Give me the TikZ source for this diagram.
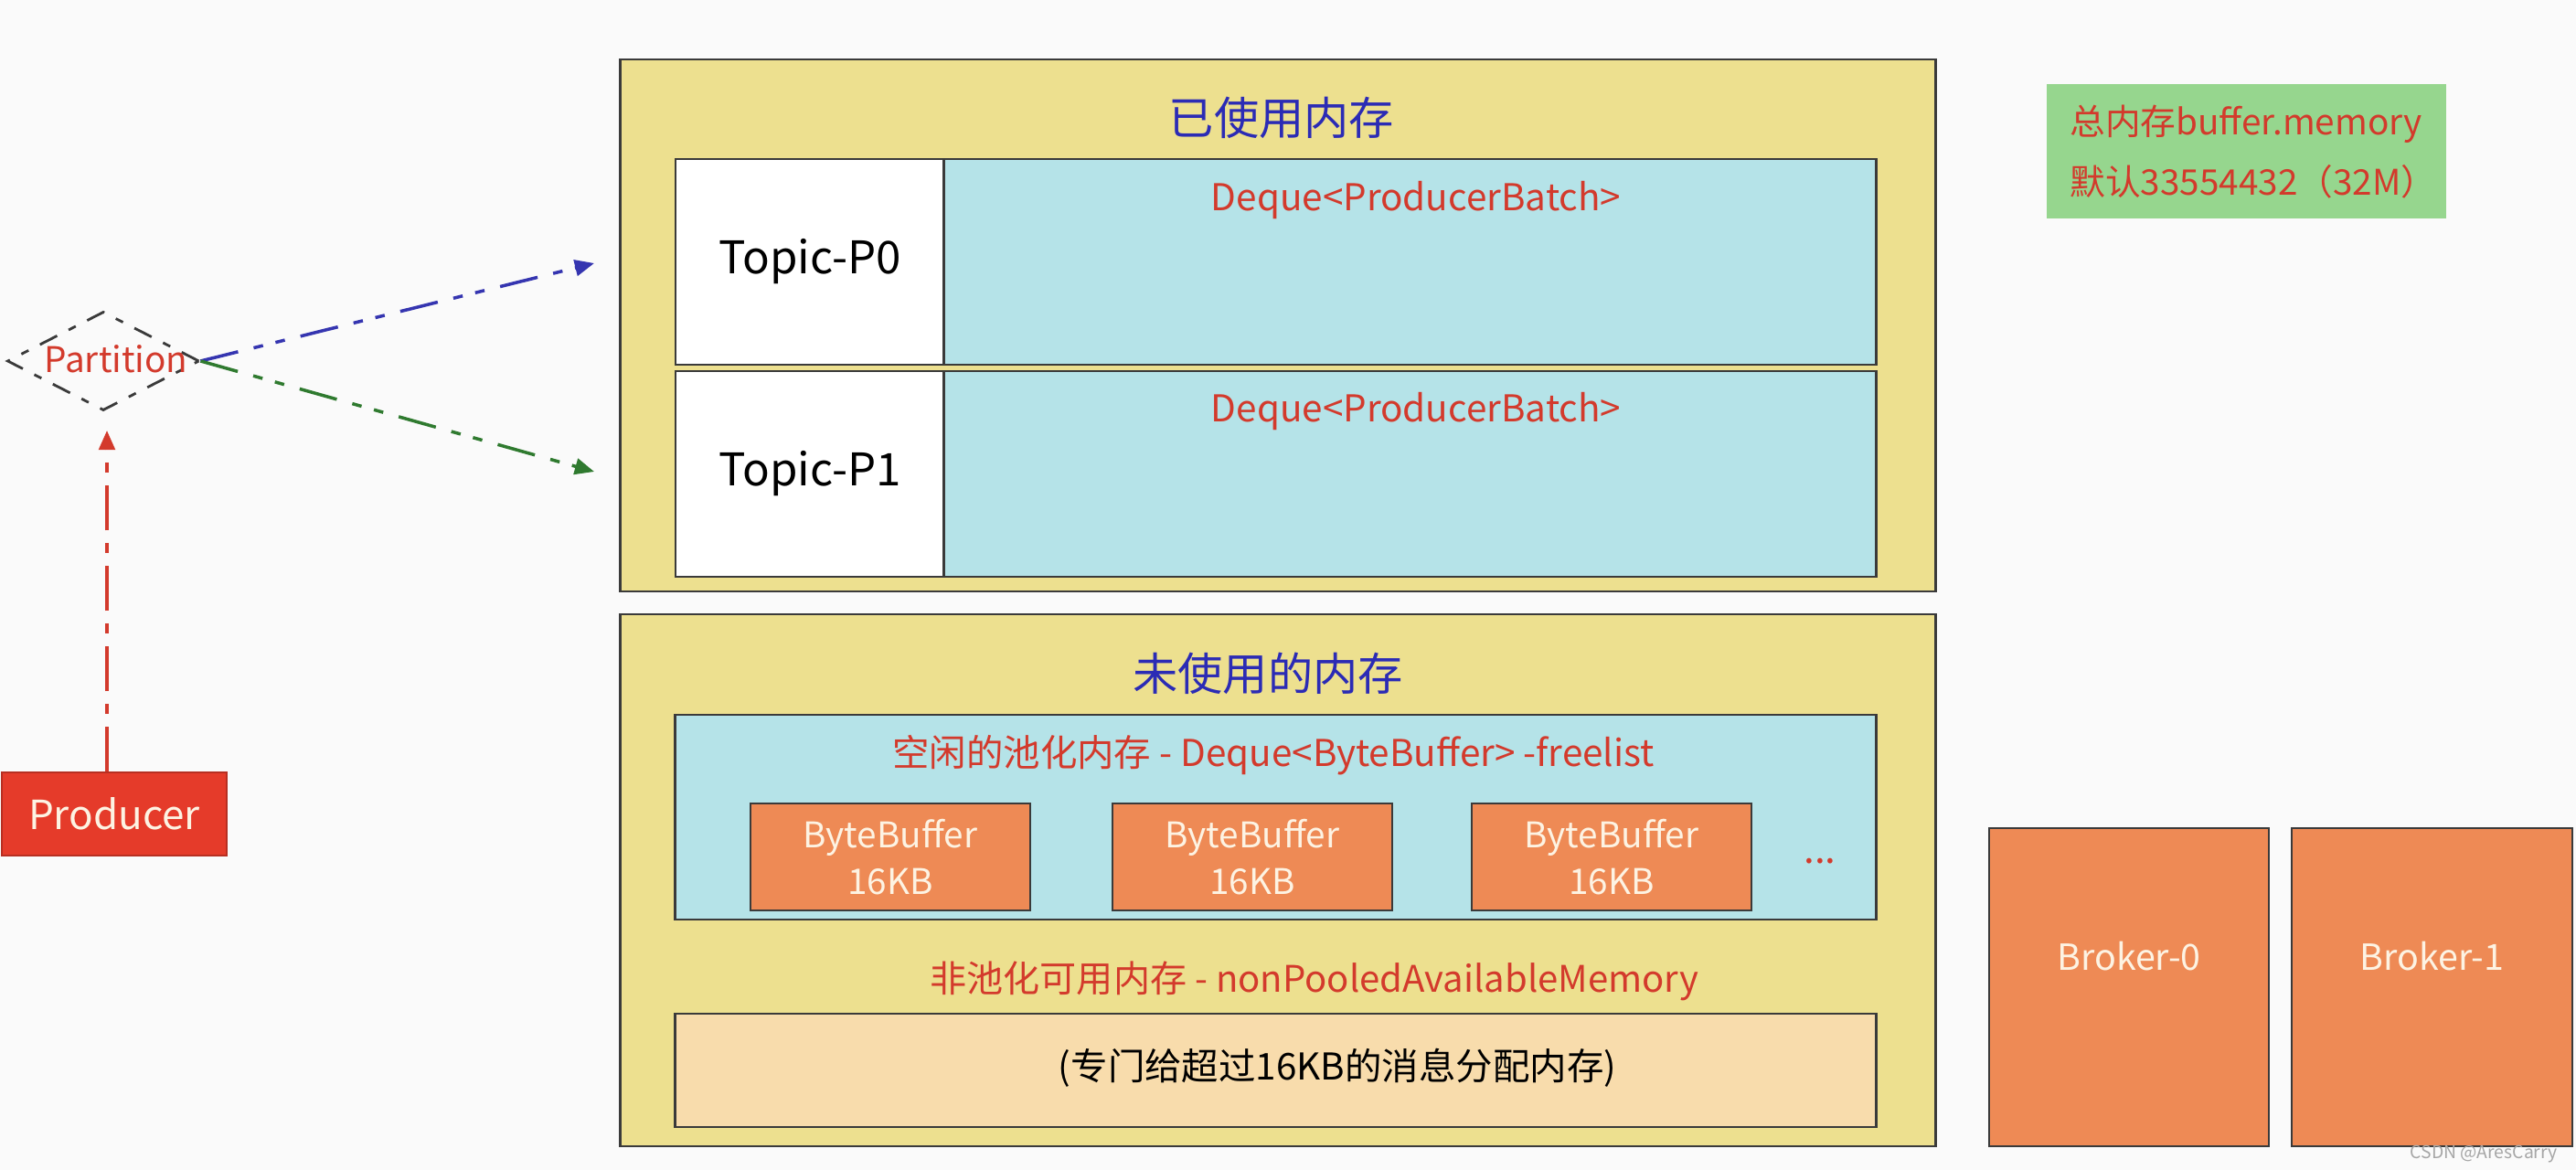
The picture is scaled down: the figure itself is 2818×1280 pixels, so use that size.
\documentclass[tikz,border=0pt]{standalone}
\usepackage{fontspec}
\setmainfont{Noto Sans CJK SC}
\usetikzlibrary{shapes.geometric,arrows.meta}
\definecolor{bg}{HTML}{FAFAFA}
\definecolor{ymem}{HTML}{EDE08F}
\definecolor{cyanmem}{HTML}{B5E3E8}
\definecolor{bborange}{HTML}{EE8A55}
\definecolor{peach}{HTML}{F8DCAC}
\definecolor{greenbox}{HTML}{96D68E}
\definecolor{titleblue}{HTML}{2B2BB5}
\definecolor{txtred}{HTML}{D33A2C}
\definecolor{prodred}{HTML}{E53B2A}
\definecolor{edge}{HTML}{3A3A3A}
\definecolor{arrblue}{HTML}{3535B0}
\definecolor{arrgreen}{HTML}{2F7A2F}
\definecolor{lighttxt}{HTML}{FDF3E3}
\begin{document}
\begin{tikzpicture}[x=0.01cm,y=-0.01cm,
  box/.style={draw=edge, line width=0.7pt, rectangle, inner sep=0pt},
  titletxt/.style={text=titleblue, font=\fontsize{14}{16}\selectfont},
  redtxt/.style={text=txtred, font=\fontsize{11.5}{13}\selectfont},
  bbox/.style={box, fill=bborange, minimum width=3.06cm, minimum height=1.17cm, text=lighttxt, align=center, font=\fontsize{11}{14.5}\selectfont},
  topictxt/.style={font=\fontsize{14}{16}\selectfont},
  dashdotline/.style={line width=1pt, dash pattern=on 12pt off 5pt on 3pt off 4pt on 3pt off 5pt},
  tip/.style={-{Triangle[length=6pt,width=5pt]}}
]
\fill[bg] (0,0) rectangle (2818,1280);
\useasboundingbox (0,0) rectangle (2818,1280);

% upper memory
\node[box, fill=ymem, minimum width=14.38cm, minimum height=5.82cm] (used) at (1398,356) {};
\node[titletxt] (usedtitle) at (1402,129) {已使用内存};
\node[box, fill=white, minimum width=2.94cm, minimum height=2.25cm, topictxt] (p0) at (886,286.5) {Topic-P0};
\node[box, fill=cyanmem, minimum width=10.19cm, minimum height=2.25cm] (q0) at (1542.5,286.5) {};
\node[redtxt] (dq0) at (1549,219) {Deque<ProducerBatch>};
\node[box, fill=white, minimum width=2.94cm, minimum height=2.25cm, topictxt] (p1) at (886,518.5) {Topic-P1};
\node[box, fill=cyanmem, minimum width=10.19cm, minimum height=2.25cm] (q1) at (1542.5,518.5) {};
\node[redtxt] (dq1) at (1549,450) {Deque<ProducerBatch>};

% lower memory
\node[box, fill=ymem, minimum width=14.38cm, minimum height=5.82cm] (free) at (1398,963) {};
\node[titletxt] (freetitle) at (1387,737) {未使用的内存};
\node[box, fill=cyanmem, minimum width=13.13cm, minimum height=2.24cm] (pool) at (1395.5,894) {};
\node[redtxt] (pooltitle) at (1393,826) {空闲的池化内存 - Deque<ByteBuffer> -freelist};
\node[bbox] (bb1) at (974,937.5) {ByteBuffer\\16KB};
\node[bbox] (bb2) at (1370,937.5) {ByteBuffer\\16KB};
\node[bbox] (bb3) at (1763,937.5) {ByteBuffer\\16KB};
\node[text=txtred, font=\fontsize{12}{14}\selectfont] (dots) at (1991,942) {...};
\node[text=txtred, font=\fontsize{11.4}{14}\selectfont] (nonpool) at (1438,1073) {非池化可用内存 - nonPooledAvailableMemory};
\node[box, fill=peach, minimum width=13.13cm, minimum height=1.24cm] (np) at (1395.5,1171) {};
\node[font=\fontsize{11.5}{14}\selectfont] (nptxt) at (1463,1168) {(专门给超过16KB的消息分配内存)};

% total memory
\node[fill=greenbox, minimum width=4.37cm, minimum height=1.47cm, inner sep=0pt] (total) at (2457.5,165.5) {};
\node[text=txtred, align=left, anchor=west, font=\fontsize{11}{18.8}\selectfont] (totaltxt) at (2252,166) {总内存buffer.memory\\默认33554432（32M）};

% brokers
\node[box, fill=bborange, minimum width=3.06cm, minimum height=3.48cm] (b0) at (2329,1080) {};
\node[text=lighttxt, font=\fontsize{11.2}{12}\selectfont] (b0t) at (2329,1046) {Broker-0};
\node[box, fill=bborange, minimum width=3.07cm, minimum height=3.48cm] (b1) at (2660.5,1080) {};
\node[text=lighttxt, font=\fontsize{11.2}{12}\selectfont] (b1t) at (2660.5,1046) {Broker-1};

% producer and partition
\node[fill=prodred, draw=prodred!80!black, line width=0.5pt, minimum width=2.46cm, minimum height=0.91cm, inner sep=0pt, text=lighttxt, font=\fontsize{12.5}{14}\selectfont] (prod) at (125,890.5) {Producer};
\node[diamond, draw=edge, line width=0.8pt, dash pattern=on 6pt off 4pt on 2.5pt off 4pt, minimum width=2.1cm, minimum height=1.08cm, inner sep=0pt] (part) at (113,395) {};
\node[text=txtred, font=\fontsize{11}{12}\selectfont] (parttxt) at (127,393) {Partition};

\coordinate (e0) at (650,288);
\coordinate (e1) at (650,516);
\coordinate (ep) at (117,471);
\draw[dashdotline, tip, arrblue] (part.east) -- (e0);
\draw[dashdotline, tip, arrgreen] (part.east) -- (e1);
\draw[line width=1pt, dash pattern=on 14pt off 4pt on 3pt off 4pt, tip, txtred] (prod.north -| ep) -- (ep);

\node[text=gray!70, font=\fontsize{5.5}{6}\selectfont, anchor=east] (wm) at (2810,1263) {CSDN @AresCarry};
\end{tikzpicture}
\end{document}
